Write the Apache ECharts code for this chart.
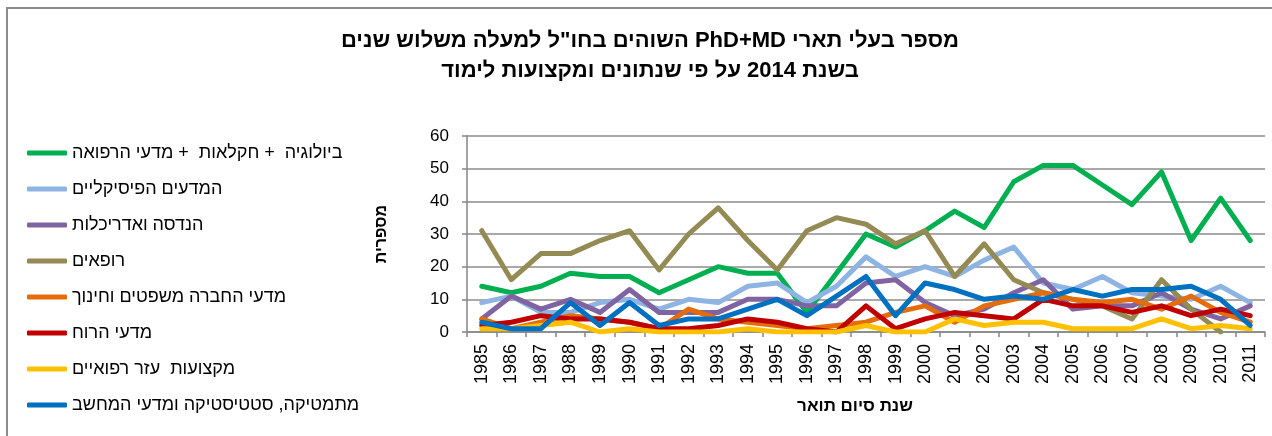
<!DOCTYPE html>
<html>
<head>
<meta charset="utf-8">
<script src="https://cdn.jsdelivr.net/npm/echarts@6/dist/echarts.min.js"></script>
<style>
  html, body { margin: 0; padding: 0; background: #fff; }
  #chart { width: 1272px; height: 436px; direction: rtl; }
</style>
</head>
<body>
<div id="chart"></div>
<script>
const titleText = 'מספר בעלי תארי PhD+MD השוהים בחו"ל למעלה משלוש שנים\nבשנת 2014 על פי שנתונים ומקצועות לימוד';
const xAxisName = 'שנת סיום תואר';
const yAxisName = 'מספרית';
const years = ['1985','1986','1987','1988','1989','1990','1991','1992','1993','1994','1995','1996','1997','1998','1999','2000','2001','2002','2003','2004','2005','2006','2007','2008','2009','2010','2011'];
const seriesNames = [
  'ביולוגיה  + חקלאות  + מדעי הרפואה',
  'המדעים הפיסיקליים',
  'הנדסה ואדריכלות',
  'רופאים',
  'מדעי החברה משפטים וחינוך',
  'מדעי הרוח',
  'מקצועות  עזר רפואיים',
  'מתמטיקה, סטטיסטיקה ומדעי המחשב'
];
const bio       = [14,12,14,18,17,17,12,16,20,18,18,6,18,30,26,31,37,32,46,51,51,45,39,49,28,41,28];
const physical  = [9,11,6,6,9,10,7,10,9,14,15,9,14,23,17,20,17,22,26,15,13,17,12,11,10,14,9];
const engineering = [4,11,7,10,6,13,6,6,6,10,10,8,8,15,16,9,5,7,12,16,7,8,8,12,7,4,8];
const physicians = [31,16,24,24,28,31,19,30,38,28,19,31,35,33,27,31,17,27,16,12,10,8,4,16,7,0,null];
const social    = [4,1,3,5,4,3,1,7,4,3,2,1,2,3,6,8,3,8,10,12,10,9,10,7,11,6,3];
const humanities = [2,3,5,4,4,3,1,1,2,4,3,1,0,8,1,4,6,5,4,10,8,8,6,8,5,7,5];
const paramedical = [1,1,2,3,0,1,0,0,0,1,0,0,0,2,0,0,4,2,3,3,1,1,1,4,1,2,1];
const mathCs    = [3,1,1,9,2,9,2,4,4,7,10,5,11,17,5,15,13,10,11,10,13,11,13,13,14,10,2];
const allData = [bio, physical, engineering, physicians, social, humanities, paramedical, mathCs];
const colors = ['#00B050','#8DB4E2','#8064A2','#948A54','#E46C0A','#C00000','#FFC000','#0070C0'];

const FONT = '"Liberation Sans", Arial, sans-serif';
const chart = echarts.init(document.getElementById('chart'), null, {renderer: 'canvas'});
chart.setOption({
  animation: false,
  backgroundColor: '#fff',
  color: colors,
  title: {
    text: titleText,
    left: 650,
    textAlign: 'center',
    top: 26,
    padding: 0,
    textStyle: { fontFamily: FONT, fontSize: 22, fontWeight: 'bold', color: '#000', lineHeight: 30 }
  },
  graphic: [{
    type: 'rect',
    silent: true,
    shape: { x: 7, y: 8, width: 1400, height: 600 },
    style: { fill: null, stroke: '#8c8c8c', lineWidth: 2 },
    z: -10
  }],
  legend: {
    orient: 'vertical',
    left: 27,
    top: 144,
    padding: 0,
    itemWidth: 40,
    itemHeight: 5,
    itemGap: 18,
    icon: 'roundRect',
    textStyle: { fontFamily: FONT, fontSize: 18, color: '#000', lineHeight: 18 },
    data: seriesNames
  },
  grid: { left: 467, right: 7, top: 136, bottom: 104, containLabel: false },
  xAxis: {
    type: 'category',
    data: years,
    boundaryGap: true,
    name: xAxisName,
    nameLocation: 'middle',
    nameGap: 66,
    nameTextStyle: { fontFamily: FONT, fontSize: 17, fontWeight: 'bold', color: '#000', padding: [0, 22, 0, 0] },
    axisLine: { lineStyle: { color: '#868686', width: 1.5 } },
    axisTick: { show: true, alignWithLabel: false, length: 5, lineStyle: { color: '#868686', width: 1.5 } },
    axisLabel: { rotate: 90, margin: 12, fontFamily: FONT, fontSize: 18, color: '#000', interval: 0 },
    splitLine: { show: false }
  },
  yAxis: {
    type: 'value',
    min: 0,
    max: 60,
    interval: 10,
    name: yAxisName,
    nameLocation: 'middle',
    nameGap: 77,
    nameRotate: 90,
    nameTextStyle: { fontFamily: FONT, fontSize: 16, fontWeight: 'bold', color: '#000' },
    axisLine: { show: true, lineStyle: { color: '#868686', width: 1.5 } },
    axisTick: { show: true, length: 5, lineStyle: { color: '#868686', width: 1.5 } },
    axisLabel: { margin: 18, fontFamily: FONT, fontSize: 17, color: '#000' },
    splitLine: { lineStyle: { color: '#8c8c8c', width: 1.5 } }
  },
  series: seriesNames.map((n, i) => ({
    name: n,
    type: 'line',
    data: allData[i],
    symbol: 'none',
    connectNulls: false,
    lineStyle: { width: 5, color: colors[i], cap: 'round', join: 'round' },
    itemStyle: { color: colors[i] },
    emphasis: { disabled: true }
  }))
});
</script>
</body>
</html>
